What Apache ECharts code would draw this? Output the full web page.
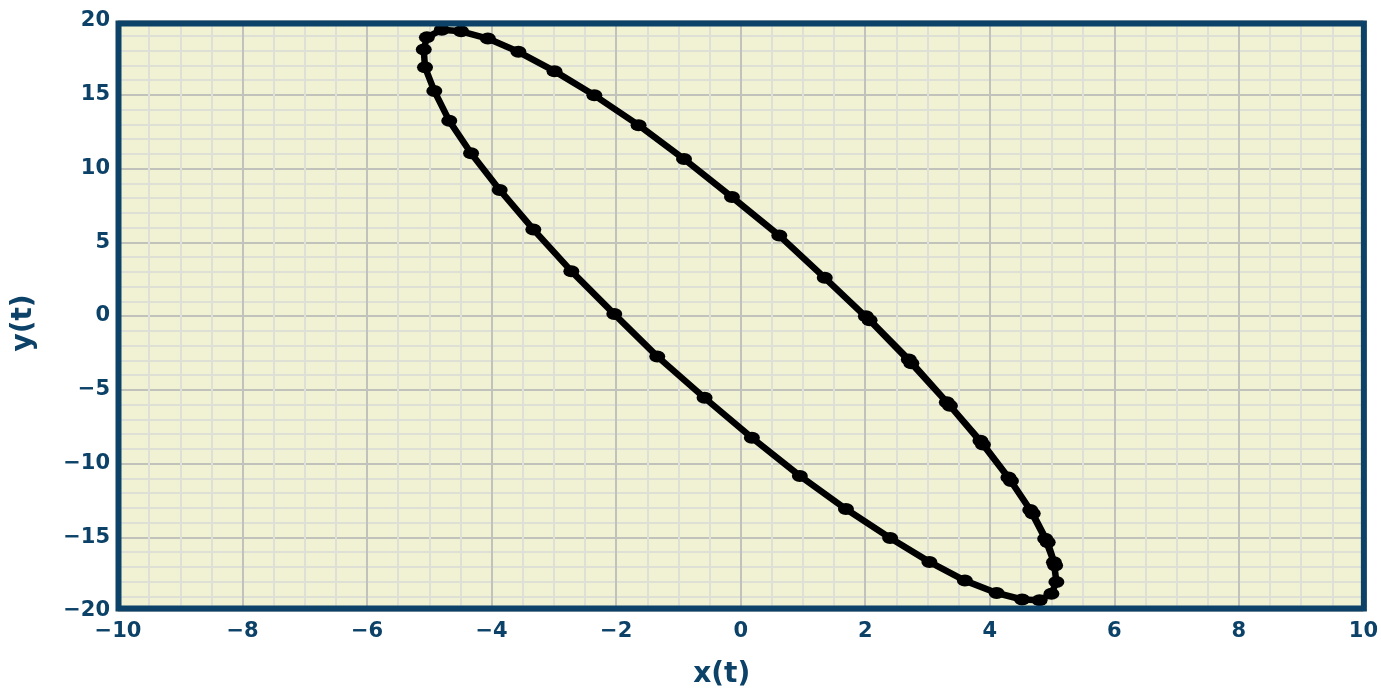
<!DOCTYPE html>
<html>
<head>
<meta charset="utf-8">
<script src="https://cdn.jsdelivr.net/npm/echarts@6/dist/echarts.min.js"></script>
<style>
  html, body { margin: 0; padding: 0; background: #ffffff; }
  #chart { width: 1381px; height: 694px; }
</style>
</head>
<body>
<div id="chart"></div>
<script>
// Points of the traced curve, in drawing order
const xValues = [
  2.01, 2.70, 3.31, 3.85, 4.30, 4.65, 4.89, 5.03, 5.07, 4.99, 4.80, 4.52,
  4.11, 3.60, 3.03, 2.40, 1.69, 0.95, 0.18, -0.58, -1.34, -2.03, -2.72, -3.33,
  -3.87, -4.33, -4.68, -4.92, -5.07, -5.09, -5.04, -4.80, -4.49, -4.06, -3.57,
  -2.99, -2.35, -1.64, -0.91, -0.14, 0.62, 1.35,
  2.07, 2.74, 3.36, 3.89, 4.34, 4.69, 4.93, 5.05
];
const yValues = [
  -0.01, -2.95, -5.84, -8.46, -10.95, -13.15, -15.10, -16.70, -18.04, -18.83, -19.27, -19.22,
  -18.78, -17.94, -16.67, -15.05, -13.09, -10.84, -8.25, -5.55, -2.74, 0.13, 3.04, 5.87,
  8.55, 11.03, 13.23, 15.25, 16.87, 18.06, 18.89, 19.41, 19.30, 18.81, 17.91,
  16.60, 14.96, 12.94, 10.64, 8.06, 5.45, 2.59,
  -0.29, -3.20, -6.08, -8.72, -11.19, -13.39, -15.34, -16.92
];
const xTicks = [-10, 10, 2];   // min, max, interval
const yTicks = [-20, 20, 5];
const xName = 'x(t)';
const yName = 'y(t)';

const points = xValues.map((x, i) => [x, yValues[i]]);
const navy = '#0c4168';
const fontFam = '"DejaVu Sans", Lato, sans-serif';
const fmt = v => (v < 0 ? '\u2212' + Math.abs(v) : String(v));

const chart = echarts.init(document.getElementById('chart'), null, { renderer: 'canvas' });
chart.setOption({
  animation: false,
  backgroundColor: '#ffffff',
  grid: {
    left: 118, right: 17, top: 21, bottom: 80,
    show: true,
    backgroundColor: '#f1f2d3',
    borderWidth: 0,
    containLabel: false
  },
  xAxis: {
    type: 'value',
    min: xTicks[0], max: xTicks[1], interval: xTicks[2],
    name: xName,
    nameLocation: 'middle',
    nameGap: 50,
    nameTextStyle: { color: navy, fontSize: 28, fontWeight: 'bold', fontFamily: fontFam, padding: [0, 38, 0, 0] },
    axisLine: { show: false },
    axisTick: { show: false },
    axisLabel: { color: navy, fontSize: 21, fontWeight: 'bold', fontFamily: fontFam, margin: 10, formatter: fmt },
    splitLine: { show: true, lineStyle: { color: '#c2c2bc', width: 2 } },
    minorTick: { show: false, splitNumber: 4 },
    minorSplitLine: { show: true, lineStyle: { color: '#dfe0d5', width: 2 } }
  },
  yAxis: {
    type: 'value',
    min: yTicks[0], max: yTicks[1], interval: yTicks[2],
    name: yName,
    nameLocation: 'middle',
    nameGap: 80,
    nameRotate: 90,
    nameTextStyle: { color: navy, fontSize: 28, fontWeight: 'bold', fontFamily: fontFam, padding: [0, 14, 0, 0] },
    axisLine: { show: false },
    axisTick: { show: false },
    axisLabel: { color: navy, fontSize: 21, fontWeight: 'bold', fontFamily: fontFam, margin: 8, formatter: fmt },
    splitLine: { show: true, lineStyle: { color: '#c2c2bc', width: 2 } },
    minorTick: { show: false, splitNumber: 5 },
    minorSplitLine: { show: true, lineStyle: { color: '#dfe0d5', width: 2 } }
  },
  series: [{
    type: 'line',
    data: points,
    smooth: false,
    clip: false,
    symbol: 'circle',
    symbolSize: [16, 12],
    showSymbol: true,
    showAllSymbol: true,
    lineStyle: { color: '#000000', width: 6.5 },
    itemStyle: { color: '#000000' }
  }]
});

// Frame around the plotting area, placed through the axes' own scales
const p1 = chart.convertToPixel({ gridIndex: 0 }, [xTicks[0], yTicks[1]]);
const p2 = chart.convertToPixel({ gridIndex: 0 }, [xTicks[1], yTicks[0]]);
chart.setOption({
  graphic: [{
    type: 'rect',
    z: 100,
    silent: true,
    shape: { x: p1[0] + 0.5, y: p1[1] + 2.5, width: p2[0] - p1[0], height: p2[1] - p1[1] - 5 },
    style: { fill: null, stroke: navy, lineWidth: 6 }
  }]
});
</script>
</body>
</html>
